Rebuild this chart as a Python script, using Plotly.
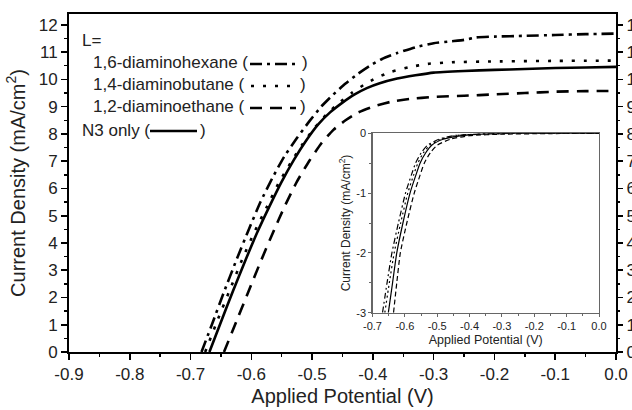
import plotly.graph_objects as go

# ---------------- main panel data (illuminated J-V) ----------------
hex_v = [-0.682, -0.665, -0.645, -0.625, -0.605, -0.585, -0.565, -0.545, -0.525, -0.505,
         -0.485, -0.465, -0.445, -0.425, -0.405, -0.385, -0.360, -0.330, -0.300, -0.270,
         -0.250, -0.230, -0.200, -0.150, -0.100, -0.050, 0.000]
hex_j = [0.0, 1.0, 2.2, 3.35, 4.45, 5.5, 6.4, 7.2, 7.85, 8.45,
         9.0, 9.45, 9.85, 10.2, 10.5, 10.75, 10.97, 11.18, 11.33, 11.40,
         11.45, 11.54, 11.57, 11.60, 11.63, 11.66, 11.68]

but_v = [-0.676, -0.655, -0.635, -0.615, -0.595, -0.575, -0.555, -0.535, -0.515, -0.495,
         -0.475, -0.455, -0.435, -0.415, -0.395, -0.370, -0.340, -0.310, -0.270, -0.200,
         -0.100, 0.000]
but_j = [0.0, 1.2, 2.3, 3.4, 4.4, 5.3, 6.2, 6.95, 7.65, 8.25,
         8.75, 9.15, 9.5, 9.8, 10.05, 10.28, 10.45, 10.57, 10.63, 10.66,
         10.68, 10.69]

eth_v = [-0.645, -0.625, -0.605, -0.585, -0.565, -0.545, -0.525, -0.505, -0.485, -0.465,
         -0.445, -0.425, -0.400, -0.370, -0.340, -0.300, -0.250, -0.200, -0.150, -0.100,
         -0.050, 0.000]
eth_j = [0.0, 1.1, 2.2, 3.3, 4.35, 5.35, 6.25, 7.0, 7.65, 8.15,
         8.5, 8.78, 9.0, 9.18, 9.28, 9.36, 9.40, 9.45, 9.50, 9.55,
         9.57, 9.58]

n3_v = [-0.669, -0.650, -0.630, -0.610, -0.590, -0.570, -0.550, -0.530, -0.510, -0.490,
        -0.470, -0.450, -0.430, -0.410, -0.390, -0.360, -0.330, -0.300, -0.250, -0.200,
        -0.150, -0.100, -0.050, 0.000]
n3_j = [0.0, 1.1, 2.25, 3.35, 4.4, 5.35, 6.25, 7.05, 7.75, 8.35,
        8.8, 9.15, 9.45, 9.68, 9.85, 10.03, 10.15, 10.25, 10.31, 10.35,
        10.38, 10.42, 10.44, 10.46]

# ---------------- inset data (dark current) ----------------
in_hex_v = [-0.669, -0.655, -0.640, -0.620, -0.598, -0.580, -0.567, -0.550, -0.530, -0.495, -0.450, -0.360, -0.250, 0.000]
in_hex_j = [-3.0, -2.5, -2.0, -1.5, -1.0, -0.7, -0.5, -0.33, -0.2, -0.1, -0.04, -0.01, 0.0, 0.0]

in_but_v = [-0.662, -0.648, -0.633, -0.613, -0.591, -0.573, -0.560, -0.543, -0.523, -0.488, -0.445, -0.355, -0.250, 0.000]
in_but_j = [-3.0, -2.5, -2.0, -1.5, -1.0, -0.7, -0.5, -0.33, -0.2, -0.1, -0.04, -0.01, 0.0, 0.0]

in_n3_v = [-0.651, -0.638, -0.625, -0.606, -0.584, -0.566, -0.553, -0.536, -0.517, -0.482, -0.440, -0.350, -0.200, 0.000]
in_n3_j = [-3.0, -2.5, -2.0, -1.5, -1.0, -0.7, -0.5, -0.33, -0.2, -0.1, -0.05, -0.01, 0.0, 0.0]

in_eth_v = [-0.635, -0.625, -0.614, -0.594, -0.571, -0.553, -0.540, -0.522, -0.500, -0.460, -0.400, -0.300, -0.150, 0.000]
in_eth_j = [-3.0, -2.5, -2.0, -1.5, -1.0, -0.7, -0.5, -0.33, -0.2, -0.1, -0.04, -0.015, -0.005, 0.0]

# ---------------- tick labels ----------------
main_xtick_vals = [-0.9, -0.8, -0.7, -0.6, -0.5, -0.4, -0.3, -0.2, -0.1, 0.0]
main_xtick_text = ["-0.9", "-0.8", "-0.7", "-0.6", "-0.5", "-0.4", "-0.3", "-0.2", "-0.1", "0.0"]
main_ytick_vals = [0, 1, 2, 3, 4, 5, 6, 7, 8, 9, 10, 11, 12]
main_ytick_text = ["0", "1", "2", "3", "4", "5", "6", "7", "8", "9", "10", "11", "12"]
inset_xtick_vals = [-0.7, -0.6, -0.5, -0.4, -0.3, -0.2, -0.1, 0.0]
inset_xtick_text = ["-0.7", "-0.6", "-0.5", "-0.4", "-0.3", "-0.2", "-0.1", "0.0"]
inset_ytick_vals = [-3, -2, -1, 0]
inset_ytick_text = ["-3", "-2", "-1", "0"]

# ---------------- legend labels ----------------
legend_head = "L="
legend_names = ["1,6-diaminohexane", "1,4-diaminobutane", "1,2-diaminoethane", "N3 only"]

# ---------------- styles ----------------
FONT = "Liberation Sans, Arial, sans-serif"
TXT = "#222222"
dash_main = ["12px,5px,3px,5px", "3px,9px", "12px,8px", "solid"]
dash_in = ["6px,3px,2px,3px", "2px,3px", "5px,3px", "solid"]

fig = go.Figure()

main_sets = [(hex_v, hex_j), (but_v, but_j), (eth_v, eth_j), (n3_v, n3_j)]
for (v, j), d, name in zip(main_sets, dash_main, legend_names):
    fig.add_trace(go.Scatter(x=v, y=j, mode="lines", name=name, showlegend=False,
                             line=dict(color="black", width=2.6, dash=d, shape="spline", smoothing=0.5),
                             xaxis="x", yaxis="y"))

inset_sets = [(in_hex_v, in_hex_j), (in_but_v, in_but_j), (in_eth_v, in_eth_j), (in_n3_v, in_n3_j)]
for (v, j), d, name in zip(inset_sets, dash_in, legend_names):
    fig.add_trace(go.Scatter(x=v, y=j, mode="lines", name=name, showlegend=False,
                             line=dict(color="black", width=1.2, dash=d, shape="spline", smoothing=0.6),
                             xaxis="x3", yaxis="y3"))

# right-hand mirror axis (needs a trace to be drawn)
fig.add_trace(go.Scatter(x=[None], y=[None], xaxis="x", yaxis="y2", showlegend=False, hoverinfo="skip"))

# ---------------- legend (text + line samples) ----------------
L0, W, T0, H = 69, 547, 14, 338
def px(x):
    return (x - L0) / W
def py(y):
    return (352 - y) / H

annotations = [dict(text=legend_head, x=px(80), y=py(41), xref="paper", yref="paper",
                    xanchor="left", yanchor="middle", showarrow=False,
                    font=dict(size=17, family=FONT, color=TXT))]
rows = [(91, 63, 250, 298, 300), (91, 85, 251, 295, 298), (91, 107, 250, 296, 298), (80, 130, 150, 197, 198)]
shapes = []
for (tx, ty, s0, s1, cx), name, d in zip(rows, legend_names, dash_main):
    annotations.append(dict(text=name + " (", x=px(tx), y=py(ty), xref="paper", yref="paper",
                            xanchor="left", yanchor="middle", showarrow=False,
                            font=dict(size=17, family=FONT, color=TXT)))
    annotations.append(dict(text=")", x=px(cx), y=py(ty), xref="paper", yref="paper",
                            xanchor="left", yanchor="middle", showarrow=False,
                            font=dict(size=17, family=FONT, color=TXT)))
    shapes.append(dict(type="line", xref="paper", yref="paper", x0=px(s0), x1=px(s1),
                       y0=py(ty + 1), y1=py(ty + 1), line=dict(color="black", width=2.4, dash=d)))

fig.update_layout(
    width=632, height=410,
    margin=dict(l=69, r=16, t=14, b=58, autoexpand=False),
    paper_bgcolor="white", plot_bgcolor="white",
    font=dict(family=FONT, color=TXT),
    showlegend=False,
    annotations=annotations,
    shapes=shapes,
    xaxis=dict(range=[-0.9, 0.0], tickvals=main_xtick_vals, ticktext=main_xtick_text, automargin=False,
               showgrid=False, zeroline=False, showline=True, linecolor="black", linewidth=2,
               mirror=True, ticks="outside", ticklen=6, tickwidth=1.6, tickcolor="black",
               minor=dict(dtick=0.05, tick0=-0.9, ticks="outside", ticklen=3, tickwidth=1.4, tickcolor="black"),
               tickfont=dict(size=17, family=FONT, color=TXT),
               title=dict(text="Applied Potential (V)", font=dict(size=20, family=FONT, color=TXT), standoff=6)),
    yaxis=dict(range=[0, 12.4], tickvals=main_ytick_vals, ticktext=main_ytick_text, automargin=False,
               showgrid=False, zeroline=False, showline=True, linecolor="black", linewidth=2,
               mirror=True, ticks="outside", ticklen=6, tickwidth=1.6, tickcolor="black",
               minor=dict(dtick=0.5, tick0=0, ticks="outside", ticklen=3, tickwidth=1.4, tickcolor="black"),
               tickfont=dict(size=17, family=FONT, color=TXT),
               title=dict(text="Current Density (mA/cm<sup>2</sup>)", font=dict(size=20, family=FONT, color=TXT), standoff=8)),
    yaxis2=dict(range=[0, 12.4], tickvals=main_ytick_vals, ticktext=main_ytick_text, automargin=False,
                overlaying="y", side="right",
                showgrid=False, zeroline=False, showline=False,
                ticks="outside", ticklen=6, tickwidth=1.6, tickcolor="black",
                minor=dict(dtick=0.5, tick0=0, ticks="outside", ticklen=3, tickwidth=1.4, tickcolor="black"),
                tickfont=dict(size=17, family=FONT, color=TXT)),
    xaxis3=dict(domain=[px(372.5), px(599)], anchor="y3", range=[-0.7, 0.0],
                tickvals=inset_xtick_vals, ticktext=inset_xtick_text, automargin=False,
                showgrid=False, zeroline=False, showline=True, linecolor="#666666",
                linewidth=1.2, mirror=True, ticks="outside", ticklen=3, tickwidth=1, tickcolor="#666666",
                minor=dict(dtick=0.05, tick0=-0.7, ticks="outside", ticklen=2, tickwidth=1, tickcolor="#666666"),
                tickfont=dict(size=11, family=FONT, color=TXT),
                title=dict(text="Applied Potential (V)", font=dict(size=12.5, family=FONT, color=TXT), standoff=4)),
    yaxis3=dict(domain=[py(312.7), py(133.3)], anchor="x3", range=[-3, 0],
                tickvals=inset_ytick_vals, ticktext=inset_ytick_text, automargin=False,
                showgrid=False, zeroline=False, showline=True, linecolor="#666666",
                linewidth=1.2, mirror=True, ticks="outside", ticklen=3, tickwidth=1, tickcolor="#666666",
                minor=dict(dtick=0.5, tick0=-3, ticks="outside", ticklen=2, tickwidth=1, tickcolor="#666666"),
                tickfont=dict(size=11, family=FONT, color=TXT),
                title=dict(text="Current Density (mA/cm<sup>2</sup>)", font=dict(size=12, family=FONT, color=TXT), standoff=3)),
)

fig.write_html("out.html",
               config={"displayModeBar": False, "staticPlot": True},
               post_script="document.body.style.margin='0';document.body.style.padding='0';"
                           "document.body.style.overflow='hidden';")
